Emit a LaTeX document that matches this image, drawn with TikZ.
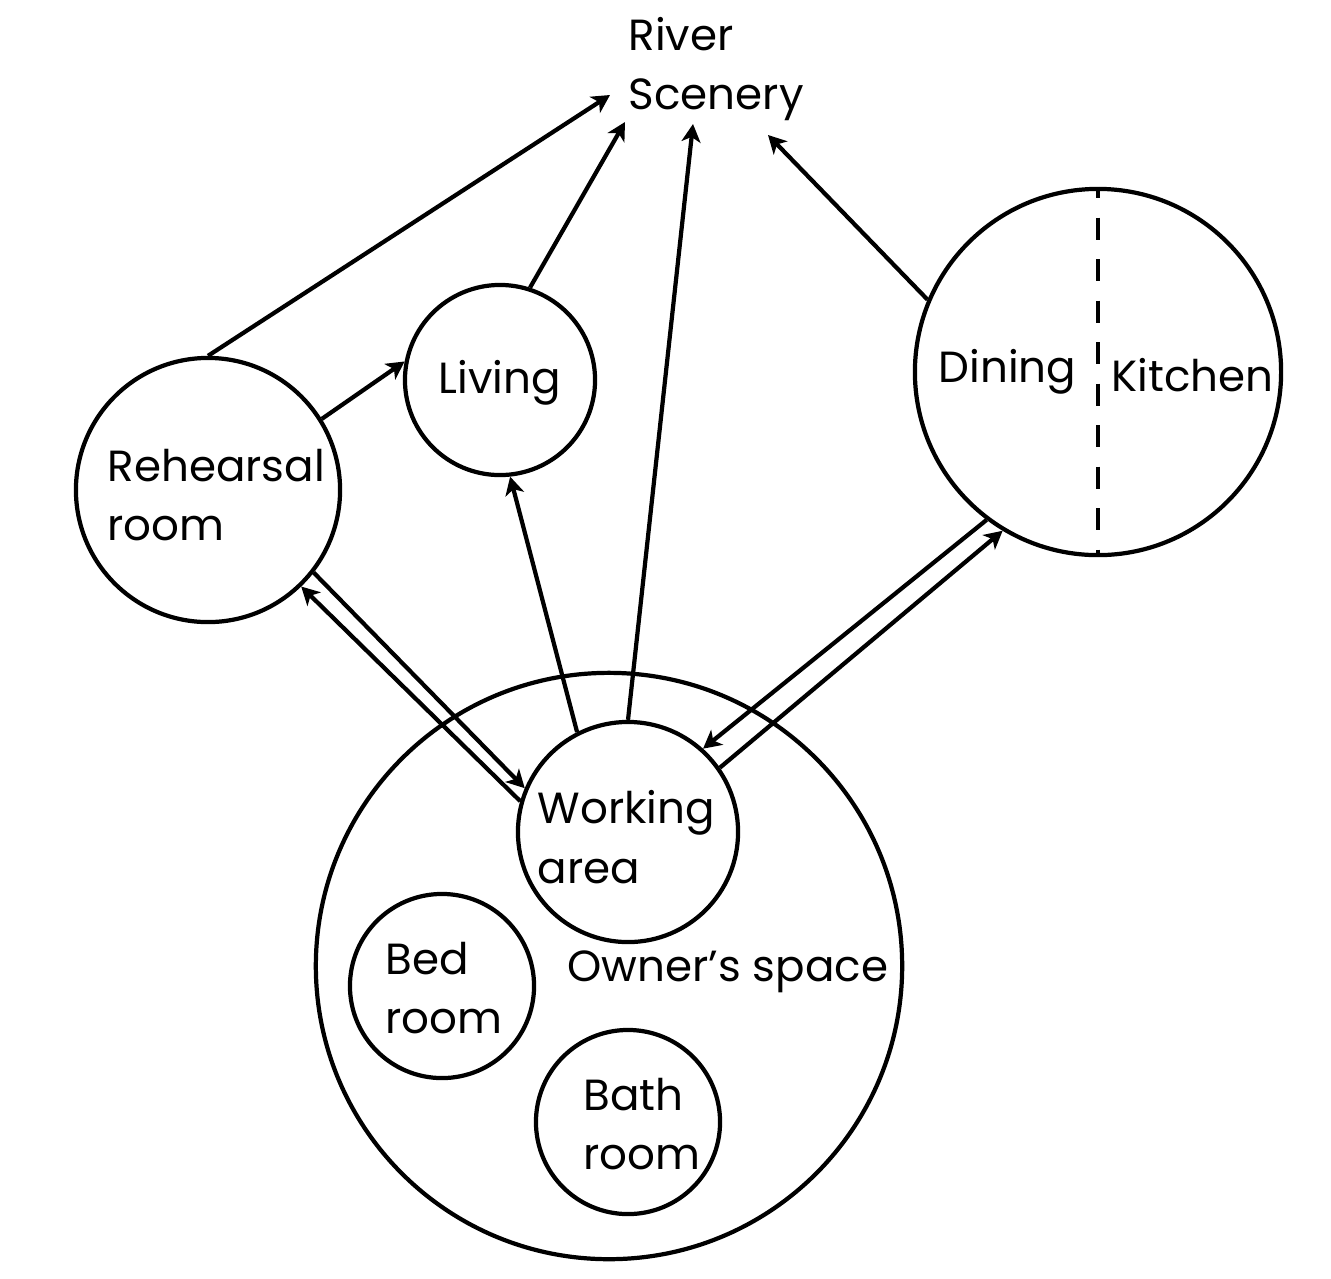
\documentclass[tikz,border=0pt]{standalone}
\usepackage{fontspec}
\setmainfont{Poppins}
\usetikzlibrary{arrows.meta}
\tikzset{
  room/.style={circle,draw,line width=1.2pt,inner sep=0pt},
  lbl/.style={inner sep=0pt,align=left,font=\fontsize{12.4}{17}\selectfont},
  arr/.style={line width=1.2pt,-{Stealth[length=1.8mm,width=1.9mm,inset=0.5mm]}},
}
\begin{document}
\begin{tikzpicture}[x=0.01cm,y=-0.01cm]
\useasboundingbox (0,0) rectangle (1331,1278);
% circles
\node[room,minimum size=2.64cm] (reh) at (208,490) {};
\node[room,minimum size=1.90cm] (liv) at (500,380) {};
\node[room,minimum size=3.66cm] (din) at (1098,372) {};
\node[room,minimum size=5.86cm] (own) at (609,966) {};
\node[room,minimum size=2.20cm] (work) at (628,832) {};
\node[room,minimum size=1.84cm] (bed) at (442,986) {};
\node[room,minimum size=1.84cm] (bath) at (628,1122) {};
\draw[line width=1pt,dash pattern=on 6.2pt off 5.6pt,dash phase=3pt] (din.north) -- (din.south);
% labels
\node[lbl,anchor=west] (tRiver) at (628,69) {River\\Scenery};
\node[lbl,anchor=west] (tReh) at (107,495) {Rehearsal\\room};
\node[lbl] (tLiv) at (500,383) {Living};
\node[lbl,anchor=west] (tDin) at (938,372) {Dining};
\node[lbl,anchor=west] (tKit) at (1111,375) {Kitchen};
\node[lbl,anchor=west] (tWork) at (537,837) {Working\\area};
\node[lbl,anchor=west] (tBed) at (385,988) {Bed\\room};
\node[lbl,anchor=west] (tBath) at (583,1124) {Bath\\room};
\node[lbl,anchor=west] (tOwn) at (567,972) {Owner’s space};
% targets near River Scenery
\coordinate (r1) at (610,95);
\coordinate (r2) at (625,122);
\coordinate (r3) at (693,124);
\coordinate (r4) at (768,135);
% arrows to river
\draw[arr] (reh.90) -- (r1);
\draw[arr] (liv.72) -- (r2);
\draw[arr] (work.90) -- (r3);
\draw[arr] (din.157) -- (r4);
% other arrows
\draw[arr] (reh.32) -- (liv.169);
\draw[arr] (work.117) -- (liv.-84);
\draw[arr] (reh.-38) -- (work.157);
\draw[arr] (work.164) -- (reh.-46);
\draw[arr] (din.-127) -- (work.48);
\draw[arr] (work.35) -- (din.-121);
\end{tikzpicture}
\end{document}
